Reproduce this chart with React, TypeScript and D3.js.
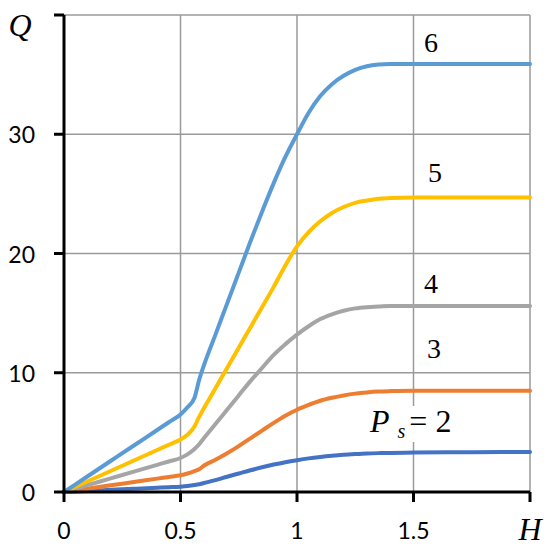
import React from "react";
import * as d3 from "d3";

const H = [0, 0.1, 0.2, 0.3, 0.4, 0.45, 0.5, 0.53, 0.56, 0.58, 0.6, 0.65, 0.7, 0.75, 0.8, 0.85, 0.9, 0.95, 1.0, 1.05, 1.1, 1.15, 1.2, 1.25, 1.3, 1.35, 1.4, 1.5, 1.75, 2.0];
const Q6 = [0, 1.3, 2.6, 3.9, 5.2, 5.85, 6.5, 7.1, 7.9, 9.4, 10.6, 13.2, 15.8, 18.4, 21.0, 23.5, 25.9, 28.1, 30.0, 31.8, 33.2, 34.2, 34.9, 35.4, 35.7, 35.85, 35.9, 35.9, 35.9, 35.9];
const Q5 = [0, 0.88, 1.76, 2.64, 3.52, 3.96, 4.4, 4.8, 5.5, 6.3, 7.0, 8.7, 10.4, 12.1, 13.8, 15.5, 17.2, 19.0, 20.6, 21.8, 22.7, 23.4, 23.9, 24.25, 24.45, 24.6, 24.65, 24.7, 24.7, 24.7];
const Q4 = [0, 0.57, 1.14, 1.71, 2.28, 2.56, 2.85, 3.15, 3.6, 4.0, 4.5, 5.7, 6.9, 8.1, 9.3, 10.4, 11.5, 12.4, 13.2, 13.9, 14.5, 14.9, 15.2, 15.4, 15.5, 15.55, 15.6, 15.6, 15.6, 15.6];
const Q3 = [0, 0.28, 0.56, 0.84, 1.12, 1.26, 1.4, 1.55, 1.75, 1.9, 2.2, 2.7, 3.25, 3.85, 4.5, 5.15, 5.8, 6.4, 6.9, 7.3, 7.65, 7.9, 8.1, 8.25, 8.35, 8.42, 8.46, 8.5, 8.5, 8.5];
const Q2 = [0, 0.09, 0.18, 0.27, 0.36, 0.4, 0.45, 0.5, 0.58, 0.65, 0.75, 1.0, 1.28, 1.55, 1.82, 2.07, 2.3, 2.5, 2.67, 2.82, 2.94, 3.04, 3.12, 3.18, 3.23, 3.26, 3.28, 3.31, 3.34, 3.36];

const seriesNames = ["2", "3", "4", "5", "6"];
const seriesValues = [Q2, Q3, Q4, Q5, Q6];
const seriesColors = ["#4472C4", "#ED7D31", "#A5A5A5", "#FFC000", "#5B9BD5"];

const xTicks = [0, 0.5, 1, 1.5, 2];
const xTickLabels = ["0", "0.5", "1", "1.5", ""];
const yTicks = [0, 10, 20, 30, 40];
const yTickLabels = ["0", "10", "20", "30", ""];

export default function App() {
  const x = d3.scaleLinear().domain([0, 2]).range([64, 530]);
  const y = d3.scaleLinear().domain([0, 40]).range([492, 15]);
  const line = d3
    .line<number>()
    .x((_, i) => x(H[i]))
    .y((d) => y(d))
    .curve(d3.curveMonotoneX);

  const tickFont = "Lato, 'Open Sans', sans-serif";
  const serif = "'Liberation Serif', 'DejaVu Serif', serif";

  return (
    <svg width={550} height={551} style={{ position: "absolute", left: 0, top: 0, background: "#fff" }}>
      <rect x={0} y={0} width={550} height={551} fill="#fff" />
      {xTicks.slice(1).map((t) => (
        <line key={"gx" + t} x1={x(t)} x2={x(t)} y1={y(40)} y2={y(0)} stroke="#9a9a9a" strokeWidth={1.5} />
      ))}
      {yTicks.slice(1).map((t) => (
        <line key={"gy" + t} x1={x(0)} x2={x(2)} y1={y(t)} y2={y(t)} stroke="#9a9a9a" strokeWidth={1.5} />
      ))}
      <rect x={368} y={406} width={95} height={36} fill="#fff" />
      {seriesValues.map((vals, i) => (
        <path key={seriesNames[i]} d={line(vals) || ""} fill="none" stroke={seriesColors[i]} strokeWidth={4} strokeLinejoin="round" strokeLinecap="round" />
      ))}
      <line x1={x(0)} x2={x(0)} y1={y(40)} y2={y(0) + 1.5} stroke="#000" strokeWidth={3} />
      <line x1={x(0) - 1.5} x2={x(2)} y1={y(0)} y2={y(0)} stroke="#000" strokeWidth={3} />
      {yTicks.map((t, i) => (
        <g key={"yt" + t}>
          <line x1={x(0) - 10} x2={x(0)} y1={y(t)} y2={y(t)} stroke="#000" strokeWidth={3} />
          <text x={35} y={y(t)} textAnchor="end" dominantBaseline="central" fontFamily={tickFont} fontSize={23} fill="#000">
            {yTickLabels[i]}
          </text>
        </g>
      ))}
      {xTicks.map((t, i) => (
        <g key={"xt" + t}>
          <line x1={x(t)} x2={x(t)} y1={y(0)} y2={y(0) + 10} stroke="#000" strokeWidth={3} />
          <text x={x(t)} y={530} textAnchor="middle" dominantBaseline="central" fontFamily={tickFont} fontSize={23} fill="#000">
            {xTickLabels[i]}
          </text>
        </g>
      ))}
      <text x={20} y={36} textAnchor="middle" fontFamily={serif} fontStyle="italic" fontSize={32} fill="#000">Q</text>
      <text x={530} y={540} textAnchor="middle" fontFamily={serif} fontStyle="italic" fontSize={32} fill="#000">H</text>
      <text x={431} y={52} textAnchor="middle" fontFamily={serif} fontSize={28} fill="#000">6</text>
      <text x={435} y={182} textAnchor="middle" fontFamily={serif} fontSize={28} fill="#000">5</text>
      <text x={431} y={293} textAnchor="middle" fontFamily={serif} fontSize={28} fill="#000">4</text>
      <text x={434} y={358} textAnchor="middle" fontFamily={serif} fontSize={28} fill="#000">3</text>
      <text x={370} y={432} fontFamily={serif} fontSize={32} fill="#000">
        <tspan fontStyle="italic">P</tspan>
        <tspan fontStyle="italic" fontSize={20} dx={8} dy={6}>s</tspan>
        <tspan dx={4} dy={-6}>= 2</tspan>
      </text>
    </svg>
  );
}
